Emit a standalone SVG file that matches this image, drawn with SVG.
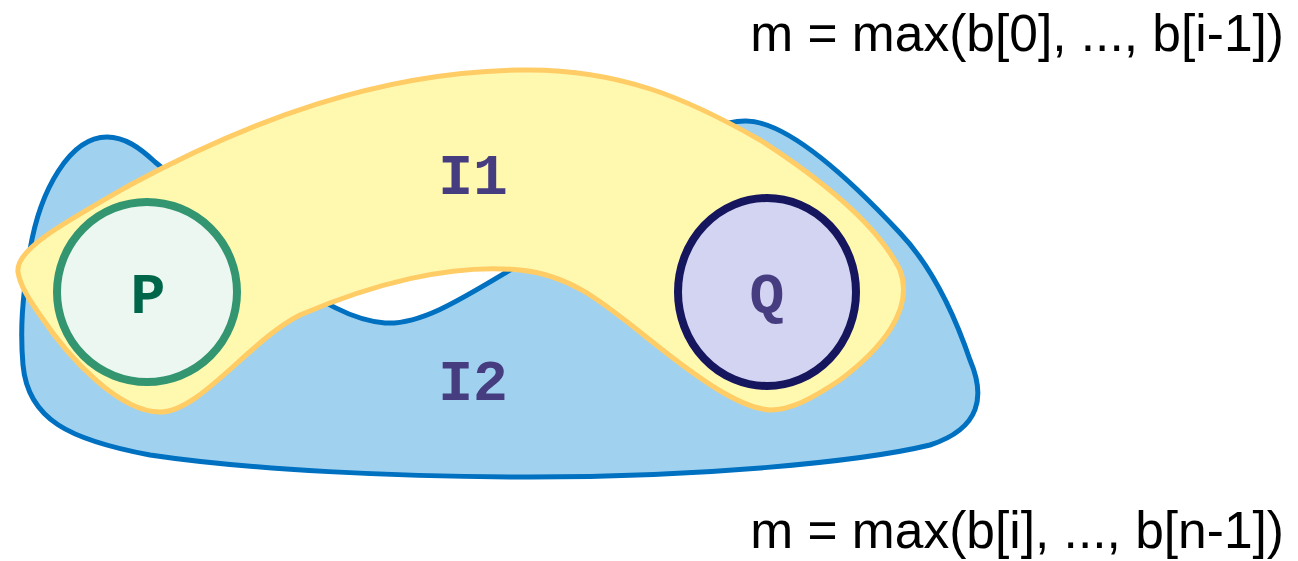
<svg xmlns="http://www.w3.org/2000/svg" width="1298" height="561" viewBox="0 0 1298 561">
<style>
.lbl{font-family:"Liberation Mono","Courier New",monospace;font-weight:bold;font-size:58px;text-anchor:middle}
.eq{font-family:"Liberation Sans",Arial,sans-serif;font-size:51.5px;text-anchor:end;fill:#000}
</style>
<rect width="1298" height="561" fill="#fff"/>
<g id="I2">
<path d="M107,137 C70,137 40,190 30,250 C22,300 20,330 23,365 C28,420 70,440 150,455 C250,470 400,477 530,477 C700,477 860,462 930,445 C982,428 985,395 970,360 C957,322 935,270 900,233 C860,190 790,120 745,121 C700,122 650,160 600,205 C560,240 540,258 510,270 C460,300 420,325 385,323 C350,320 320,300 290,280 C240,240 190,190 155,162 C140,148 125,137 107,137 Z" fill="#A0D2F0" stroke="#0070C0" stroke-width="5"/>
<text class="lbl" x="473" y="400" fill="#463C80">I2</text>
</g>
<g id="I1">
<path d="M18,272 C15,250 60,225 130,185 C250,120 380,72 520,70 C620,68 690,100 760,140 C830,185 880,230 900,270 C915,310 880,350 840,380 C810,400 790,410 770,410 C740,408 700,380 650,340 C600,300 570,275 520,270 C450,263 370,285 300,315 C250,340 200,412 160,412 C120,412 70,360 40,315 C28,298 20,285 18,272 Z" fill="#FFF9B0" stroke="#FFCC66" stroke-width="5"/>
<text class="lbl" x="473" y="194" fill="#463C80">I1</text>
</g>
<g id="P">
<circle cx="147" cy="292" r="90" fill="#EDF7F1" stroke="#339670" stroke-width="8"/>
<text class="lbl" x="148" y="313" fill="#00664A">P</text>
</g>
<g id="Q">
<ellipse cx="767" cy="292" rx="89" ry="94" fill="#D3D3F2" stroke="#16165E" stroke-width="8"/>
<text class="lbl" x="767" y="313" fill="#463C80">Q</text>
</g>
<g id="connectors"></g>
<text class="eq" x="1284" y="51">m = max(b[0], ..., b[i-1])</text>
<text class="eq" x="1284" y="548">m = max(b[i], ..., b[n-1])</text>
</svg>
